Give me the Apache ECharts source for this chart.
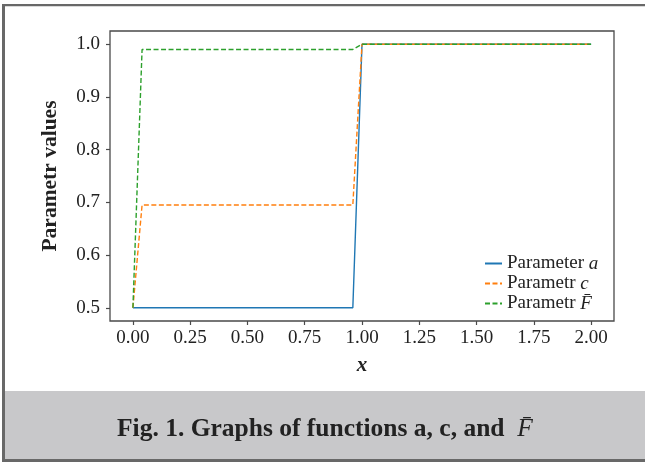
<!DOCTYPE html>
<html><head><meta charset="utf-8">
<script src="https://cdn.jsdelivr.net/npm/echarts@6/dist/echarts.min.js"></script>
<style>html,body{margin:0;padding:0;background:#fff}#c{width:645px;height:462px}</style>
</head><body><div id="c"></div>
<script>
// Data (breakpoints of the piecewise-linear curves)
const xValues = [0, 0.04, 0.96, 1.0, 2.0];
const paramA = [0.5, 0.5, 0.5, 1.0, 1.0];
const paramC = [0.5, 0.695, 0.695, 1.0, 1.0];
const paramF = [0.5, 0.99, 0.99, 1.0, 1.0];
const xTicks = [0, 0.25, 0.5, 0.75, 1.0, 1.25, 1.5, 1.75, 2.0];
const yTicks = [0.5, 0.6, 0.7, 0.8, 0.9, 1.0];
const seriesNames = ['Parameter a', 'Parametr c', 'Parametr F'];
const caption = 'Fig. 1. Graphs of functions a, c, and';

const pair = (ys) => xValues.map((x, i) => [x, ys[i]]);
const serif = 'Liberation Serif';
const chart = echarts.init(document.getElementById('c'), null, {renderer: 'canvas'});
const legendFmt = {
  'Parameter a': 'Parameter {i|a}',
  'Parametr c': 'Parametr {i|c}',
  'Parametr F': 'Parametr {i|F\u0304}'
};
chart.setOption({
  animation: false,
  backgroundColor: '#ffffff',
  grid: {left: 110, right: 31, top: 31, bottom: 141, show: true, borderColor: '#4a4a4a', borderWidth: 1.3, backgroundColor: 'transparent'},
  xAxis: {
    type: 'value', min: -0.1, max: 2.1,
    axisLine: {show: false, onZero: false},
    splitLine: {show: false},
    axisTick: {show: true, inside: false, length: 4, lineStyle: {color: '#4a4a4a', width: 1.2}, customValues: xTicks},
    axisLabel: {customValues: xTicks, formatter: v => v.toFixed(2), fontFamily: serif, fontSize: 19, color: '#222', margin: 8},
    name: 'x', nameLocation: 'middle', nameGap: 34,
    nameTextStyle: {fontFamily: serif, fontStyle: 'italic', fontWeight: 'bold', fontSize: 21, color: '#222'}
  },
  yAxis: {
    type: 'value', min: 0.475, max: 1.025,
    axisLine: {show: false, onZero: false},
    splitLine: {show: false},
    axisTick: {show: true, inside: false, length: 4, lineStyle: {color: '#4a4a4a', width: 1.2}, customValues: yTicks},
    axisLabel: {customValues: yTicks, formatter: v => v.toFixed(1), fontFamily: serif, fontSize: 19, color: '#222', margin: 10},
    name: 'Parametr values', nameLocation: 'middle', nameGap: 49, nameRotate: 90,
    nameTextStyle: {fontFamily: serif, fontWeight: 'bold', fontSize: 21.5, color: '#222'}
  },
  legend: {
    orient: 'vertical', left: 484, top: 254, padding: 0,
    itemWidth: 17, itemHeight: 10, itemGap: 1,
    data: seriesNames,
    formatter: n => legendFmt[n],
    itemStyle: {color: 'transparent', borderColor: 'transparent', borderWidth: 0},
    textStyle: {fontFamily: serif, fontSize: 19, color: '#222', lineHeight: 19,
      rich: {i: {fontFamily: serif, fontStyle: 'italic', fontSize: 19, color: '#222'}}}
  },
  series: [
    {name: seriesNames[0], type: 'line', data: pair(paramA), showSymbol: false, symbol: 'none', z: 2,
      lineStyle: {color: '#1f77b4', width: 1.4}, itemStyle: {color: '#1f77b4'}},
    {name: seriesNames[1], type: 'line', data: pair(paramC), showSymbol: false, symbol: 'none', z: 3,
      lineStyle: {color: '#ff7f0e', width: 1.4, type: [5, 2.5]}, itemStyle: {color: '#ff7f0e'}},
    {name: seriesNames[2], type: 'line', data: pair(paramF), showSymbol: false, symbol: 'none', z: 4,
      lineStyle: {color: '#2ca02c', width: 1.4, type: [5, 2.5]}, itemStyle: {color: '#2ca02c'}}
  ],
  graphic: [
    {type: 'rect', shape: {x: 5, y: 391, width: 640, height: 68}, style: {fill: '#c8c8ca'}, z: -10},
    {type: 'rect', shape: {x: 2, y: 4, width: 3, height: 458}, style: {fill: '#686868'}, z: -5},
    {type: 'rect', shape: {x: 2, y: 4, width: 643, height: 2.3}, style: {fill: '#686868'}, z: -5},
    {type: 'rect', shape: {x: 2, y: 459, width: 643, height: 3}, style: {fill: '#686868'}, z: -5},
    {type: 'text', left: 117, top: 416, z: 10,
      style: {text: caption + '  {i|F\u0304}', fontFamily: serif, fontWeight: 'bold', fontSize: 25.5, fill: '#222',
        rich: {i: {fontFamily: serif, fontStyle: 'italic', fontWeight: 'normal', fontSize: 25.5, color: '#222'}}}}
  ]
});
</script></body></html>
